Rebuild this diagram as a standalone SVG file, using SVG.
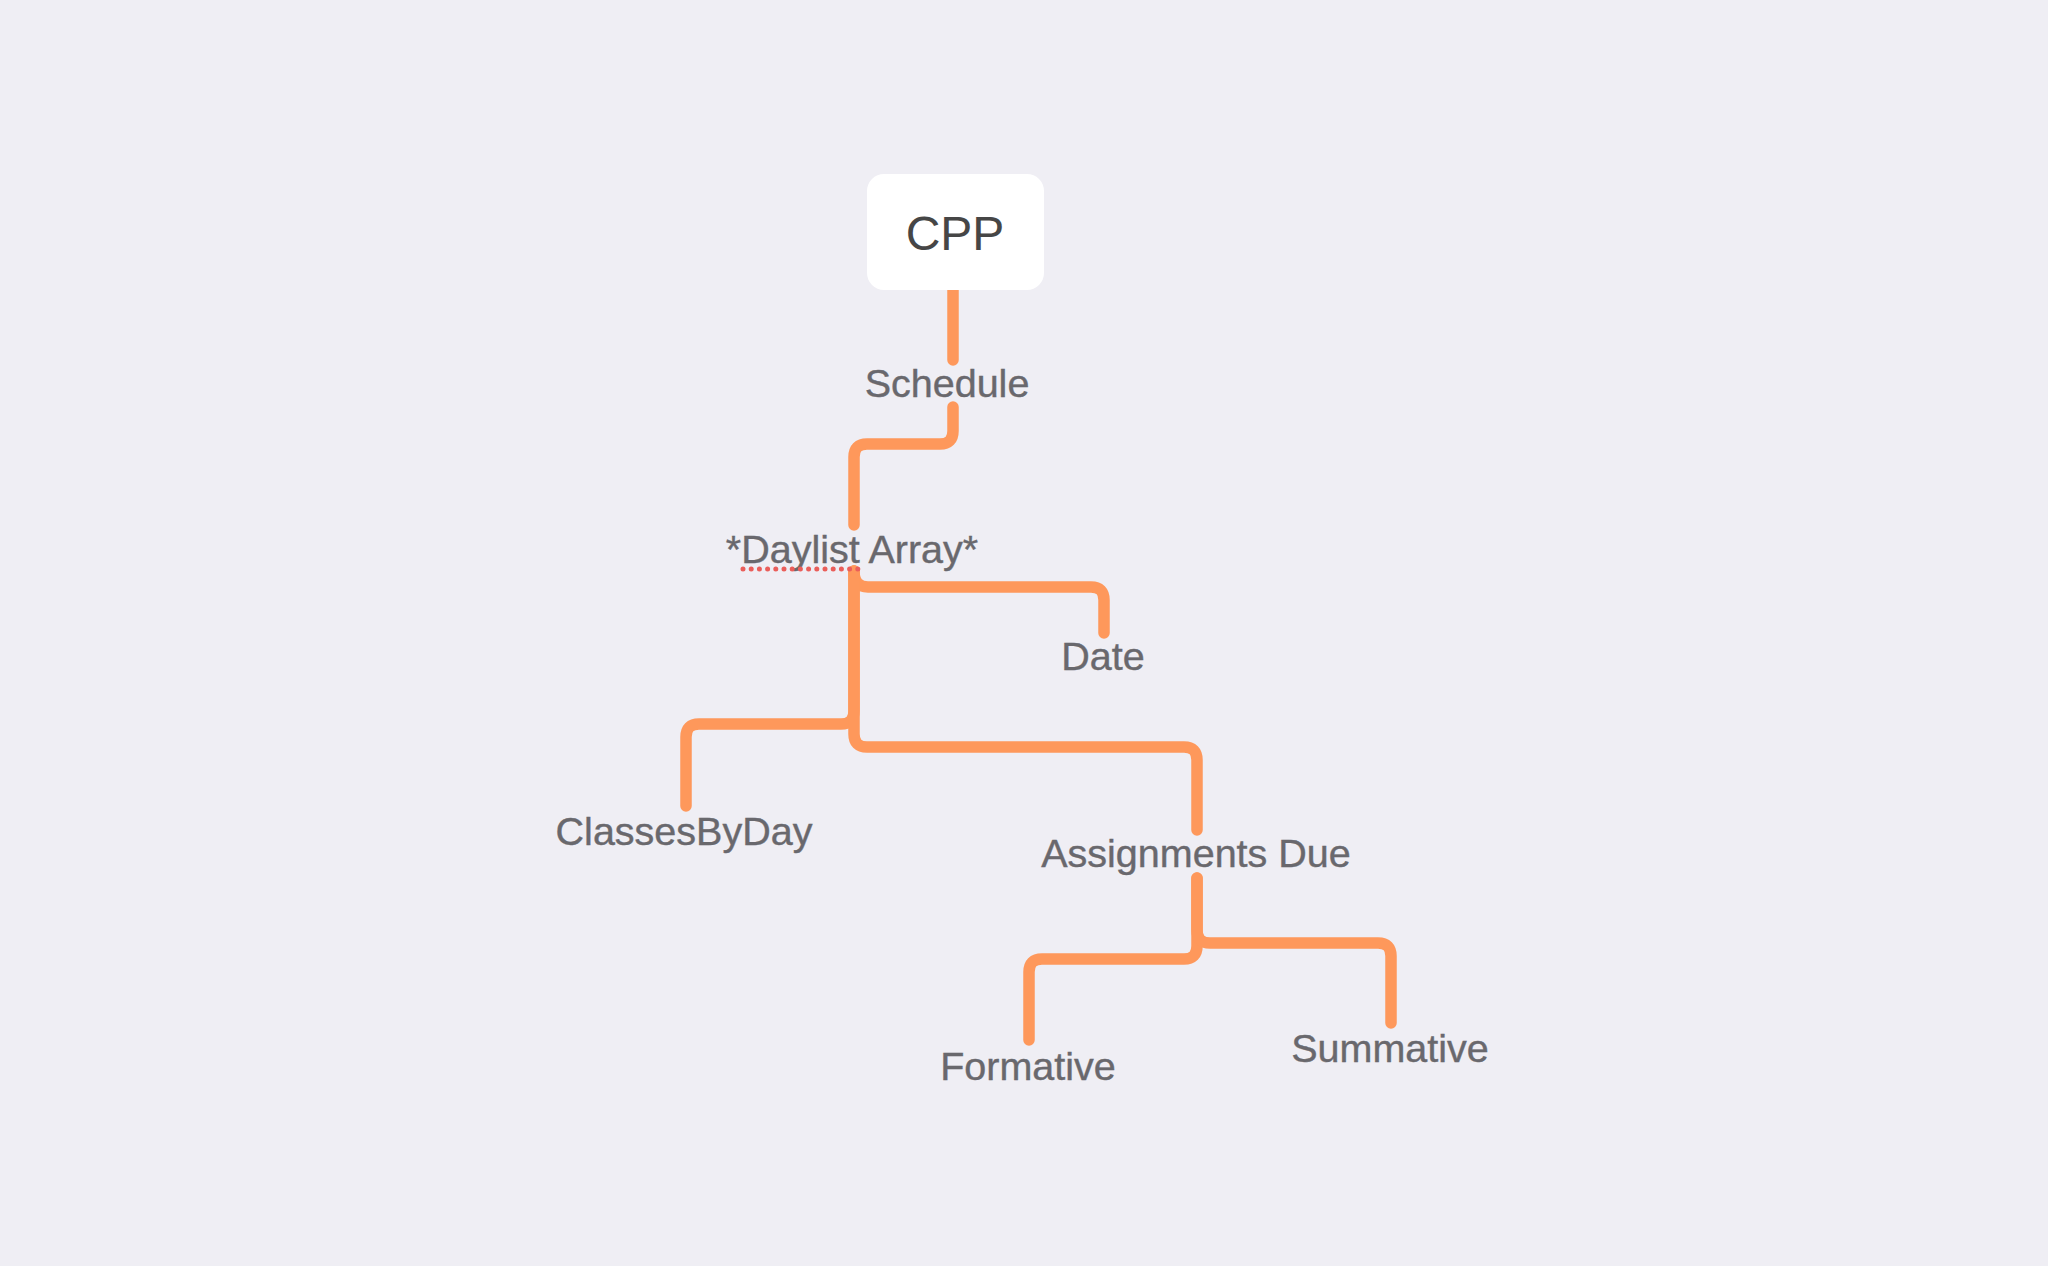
<svg xmlns="http://www.w3.org/2000/svg" width="2048" height="1266" viewBox="0 0 2048 1266">
<style>
.bg{fill:#efeef4}
.conn{fill:none;stroke:#fe985b;stroke-width:11.5;stroke-linecap:round;stroke-linejoin:round}
.root{fill:#ffffff}
.rootlabel{font-family:"Liberation Sans",Arial,sans-serif;font-size:48px;fill:#464646;text-anchor:middle}
.label{font-family:"Liberation Sans",Arial,sans-serif;font-size:39.5px;fill:#69686d;text-anchor:middle;stroke:#69686d;stroke-width:0.4}
.spell{fill:none;stroke:#ea5e5a;stroke-width:5;stroke-linecap:round;stroke-dasharray:0 8.2}
</style>
<rect class="bg" x="0" y="0" width="2048" height="1266"/>
<g id="connectors">
<path class="conn" d="M953,290 L953,360"/>
<path class="conn" d="M953,407 L953,431 Q953,444 940,444 L867,444 Q854,444 854,457 L854,525"/>
<path class="conn" d="M854,571 Q854,587 868,587 L1091,587 Q1104,587 1104,600 L1104,633"/>
<path class="conn" d="M854,571 L854,711 Q854,724 841,724 L699,724 Q686,724 686,737 L686,806"/>
<path class="conn" d="M854,571 L854,734 Q854,747 867,747 L1184,747 Q1197,747 1197,760 L1197,830"/>
<path class="conn" d="M1197,878 L1197,946 Q1197,959 1184,959 L1042,959 Q1029,959 1029,972 L1029,1040"/>
<path class="conn" d="M1197,878 L1197,930 Q1197,943 1210,943 L1378,943 Q1391,943 1391,956 L1391,1023"/>
</g>
<g id="node-cpp">
<rect class="root" x="867" y="174" width="177" height="116" rx="17" ry="17"/>
<text class="rootlabel" x="955" y="250">CPP</text>
</g>
<g id="node-schedule">
<text class="label" x="947" y="397">Schedule</text>
</g>
<g id="node-daylist">
<text class="label" x="852" y="563">*Daylist Array*</text>
<path class="spell" d="M743,569 L858,569"/>
</g>
<g id="node-date">
<text class="label" x="1103" y="670">Date</text>
</g>
<g id="node-classesbyday">
<text class="label" x="684" y="845">ClassesByDay</text>
</g>
<g id="node-assignments">
<text class="label" x="1196" y="867">Assignments Due</text>
</g>
<g id="node-formative">
<text class="label" x="1028" y="1080">Formative</text>
</g>
<g id="node-summative">
<text class="label" x="1390" y="1062">Summative</text>
</g>
</svg>
